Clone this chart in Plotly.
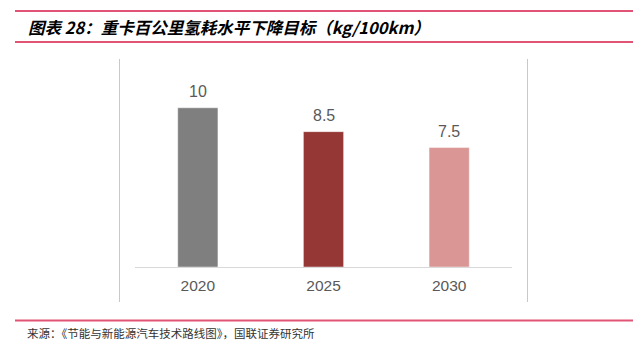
import plotly.graph_objects as go

# Target hydrogen consumption of heavy trucks (kg/100km)
years = ["2020", "2025", "2030"]
consumption = [10, 8.5, 7.5]
bar_colors = ["#7f7f7f", "#953735", "#d99694"]

W, H = 641, 349
ML, MR, MT, MB = 135, 129, 60, 82

fig = go.Figure(
    go.Bar(
        x=years,
        y=consumption,
        width=0.32,
        marker=dict(color=bar_colors, line=dict(color="rgba(255,255,255,0.45)", width=1)),
        hoverinfo="skip",
    )
)

def px_x(x):
    return (x - ML) / (W - ML - MR)

def px_y(y):
    return 1 - (y - MT) / (H - MT - MB)

pink = "#e25475"
shapes = [
    # red rules framing title and source
    dict(type="line", xref="paper", yref="paper", x0=px_x(15), x1=px_x(633), y0=px_y(11), y1=px_y(11),
         line=dict(color=pink, width=2)),
    dict(type="line", xref="paper", yref="paper", x0=px_x(15), x1=px_x(633), y0=px_y(42), y1=px_y(42),
         line=dict(color=pink, width=2)),
    dict(type="line", xref="paper", yref="paper", x0=px_x(15), x1=px_x(633), y0=px_y(320.5), y1=px_y(320.5),
         line=dict(color=pink, width=2)),
    # chart frame sides
    dict(type="line", xref="paper", yref="paper", x0=px_x(119.5), x1=px_x(119.5), y0=px_y(59), y1=px_y(302),
         line=dict(color="#c8c8c8", width=1)),
    dict(type="line", xref="paper", yref="paper", x0=px_x(527.5), x1=px_x(527.5), y0=px_y(59), y1=px_y(302),
         line=dict(color="#c8c8c8", width=1)),
]

annotations = [
    dict(text="<i><b>图表 28：重卡百公里氢耗水平下降目标（kg/100km）</b></i>",
         xref="paper", yref="paper", x=px_x(26), y=px_y(27), xanchor="left", yanchor="middle",
         showarrow=False, font=dict(family="Noto Sans CJK SC, sans-serif", size=16.5, color="#000000")),
    dict(text="来源：《节能与新能源汽车技术路线图》，国联证券研究所",
         xref="paper", yref="paper", x=px_x(25), y=px_y(333), xanchor="left", yanchor="middle",
         showarrow=False, font=dict(family="Noto Sans CJK SC, sans-serif", size=11.5, color="#333333")),
]

# value labels above each bar (category axis positions are the category indices)
for i, v in enumerate(consumption):
    annotations.append(dict(
        x=i, y=v, xref="x", yref="y", text=f"{v:g}", showarrow=False,
        xanchor="center", yanchor="bottom", yshift=6,
        font=dict(family="Liberation Sans, Arial, sans-serif", size=16, color="#595959"),
    ))

fig.update_layout(
    width=W, height=H,
    margin=dict(l=ML, r=MR, t=MT, b=MB),
    paper_bgcolor="white", plot_bgcolor="white",
    showlegend=False,
    shapes=shapes,
    annotations=annotations,
    xaxis=dict(type="category", categoryorder="array", categoryarray=years,
               showline=True, linecolor="#d9d9d9", linewidth=1, ticks="", showgrid=False,
               ticklabelstandoff=4,
               tickfont=dict(family="Liberation Sans, Arial, sans-serif", size=15.5, color="#595959")),
    yaxis=dict(range=[0, 13], visible=False, showgrid=False, zeroline=False),
)

fig.write_html("out.html")
